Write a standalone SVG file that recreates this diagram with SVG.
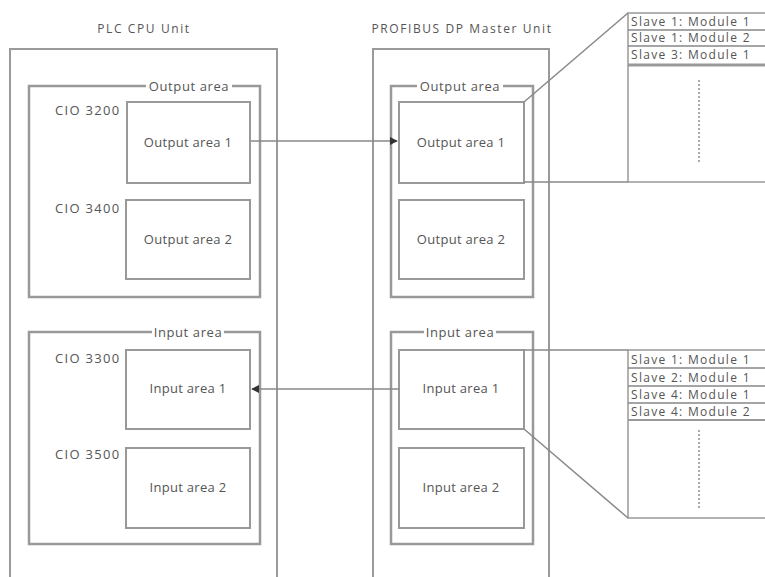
<svg xmlns="http://www.w3.org/2000/svg" width="765" height="577" viewBox="0 0 765 577">
<style>
text{font-family:"Open Sans","DejaVu Sans",sans-serif;fill:#555;font-size:13px;letter-spacing:0.3px}
.t{font-size:12px;letter-spacing:1.6px;text-anchor:middle}
.c{text-anchor:middle}
.lbl{letter-spacing:1.3px}
.al{letter-spacing:0.6px}
.row{font-size:12px;letter-spacing:1.3px}
.unit{fill:none;stroke:#9a9a9a;stroke-width:2}
.area{fill:#fff;stroke:#999;stroke-width:2.5}
.box{fill:#fff;stroke:#999;stroke-width:2}
.ln{fill:none;stroke:#888;stroke-width:1.5}
.tb{fill:#fff;stroke:#999;stroke-width:1.5}
.dot{stroke:#aaa;stroke-width:2;stroke-dasharray:2 2}
</style>
<defs>
<marker id="ah" viewBox="0 0 10 10" refX="9" refY="5" markerWidth="8" markerHeight="8" markerUnits="userSpaceOnUse" orient="auto">
<path d="M0,0 L10,5 L0,10 z" fill="#333"/>
</marker>
</defs>
<g id="plc">
<text class="t" x="144" y="33">PLC CPU Unit</text>
<path class="unit" d="M10,577 V49 H277 V577"/>
</g>
<g id="profibus">
<text class="t" x="462" y="33">PROFIBUS DP Master Unit</text>
<path class="unit" d="M373,577 V49 H549 V577"/>
</g>
<g id="plc-output-area">
<rect class="area" x="29" y="86" width="231" height="211"/>
<rect x="146" y="79" width="86" height="12" fill="#fff"/>
<text class="c al" x="189" y="91">Output area</text>
<text x="55" y="115" class="lbl">CIO 3200</text>
<text x="55" y="213" class="lbl">CIO 3400</text>
</g>
<g id="plc-out1"><rect class="box" x="127" y="102" width="123" height="81"/><text class="c" x="188" y="147">Output area 1</text></g>
<g id="plc-out2"><rect class="box" x="126" y="200" width="124" height="79"/><text class="c" x="188" y="244">Output area 2</text></g>
<g id="plc-input-area">
<rect class="area" x="29" y="332" width="231" height="212"/>
<rect x="152" y="325" width="72" height="12" fill="#fff"/>
<text class="c al" x="188" y="337">Input area</text>
<text x="55" y="363" class="lbl">CIO 3300</text>
<text x="55" y="459" class="lbl">CIO 3500</text>
</g>
<g id="plc-in1"><rect class="box" x="126" y="350" width="124" height="79"/><text class="c" x="188" y="393">Input area 1</text></g>
<g id="plc-in2"><rect class="box" x="126" y="448" width="124" height="80"/><text class="c" x="188" y="492">Input area 2</text></g>
<g id="pb-output-area">
<rect class="area" x="391" y="86" width="142" height="211" stroke-width="2"/>
<rect x="417" y="79" width="86" height="12" fill="#fff"/>
<text class="c al" x="460" y="91">Output area</text>
</g>
<g id="pb-out1"><rect class="box" x="399" y="102" width="125" height="81"/><text class="c" x="461" y="147">Output area 1</text></g>
<g id="pb-out2"><rect class="box" x="399" y="200" width="125" height="79"/><text class="c" x="461" y="244">Output area 2</text></g>
<g id="pb-input-area">
<rect class="area" x="391" y="332" width="142" height="212" stroke-width="2"/>
<rect x="424" y="325" width="72" height="12" fill="#fff"/>
<text class="c al" x="460" y="337">Input area</text>
</g>
<g id="pb-in1"><rect class="box" x="399" y="350" width="125" height="79"/><text class="c" x="461" y="393">Input area 1</text></g>
<g id="pb-in2"><rect class="box" x="399" y="448" width="125" height="80"/><text class="c" x="461" y="492">Input area 2</text></g>
<g id="table-out">
<path class="tb" d="M765,13 H628 V182 H765"/>
<path class="ln" d="M628,30 H765 M628,46 H765"/>
<path d="M628,65 H765" stroke="#999" stroke-width="3"/>
<text class="row" x="631" y="26">Slave 1: Module 1</text>
<text class="row" x="631" y="42">Slave 1: Module 2</text>
<text class="row" x="631" y="59">Slave 3: Module 1</text>
<line class="dot" x1="699" y1="80" x2="699" y2="162"/>
</g>
<g id="table-in">
<path class="tb" d="M765,350 H628 V518 H765"/>
<path class="ln" d="M628,368 H765 M628,386 H765 M628,403 H765"/>
<path d="M628,420 H765" stroke="#999" stroke-width="2"/>
<text class="row" x="631" y="364">Slave 1: Module 1</text>
<text class="row" x="631" y="382">Slave 2: Module 1</text>
<text class="row" x="631" y="399">Slave 4: Module 1</text>
<text class="row" x="631" y="416">Slave 4: Module 2</text>
<line class="dot" x1="699" y1="430" x2="699" y2="510"/>
</g>
<g id="connectors">
<line class="ln" x1="251" y1="141" x2="397" y2="141" stroke="#444" marker-end="url(#ah)"/>
<line class="ln" x1="399" y1="389" x2="252" y2="389" stroke="#444" marker-end="url(#ah)"/>
<line class="ln" x1="524" y1="102" x2="628" y2="13"/>
<line class="ln" x1="524" y1="182" x2="628" y2="182"/>
<line class="ln" x1="524" y1="350" x2="628" y2="350"/>
<line class="ln" x1="524" y1="429" x2="628" y2="518"/>
</g>
</svg>
